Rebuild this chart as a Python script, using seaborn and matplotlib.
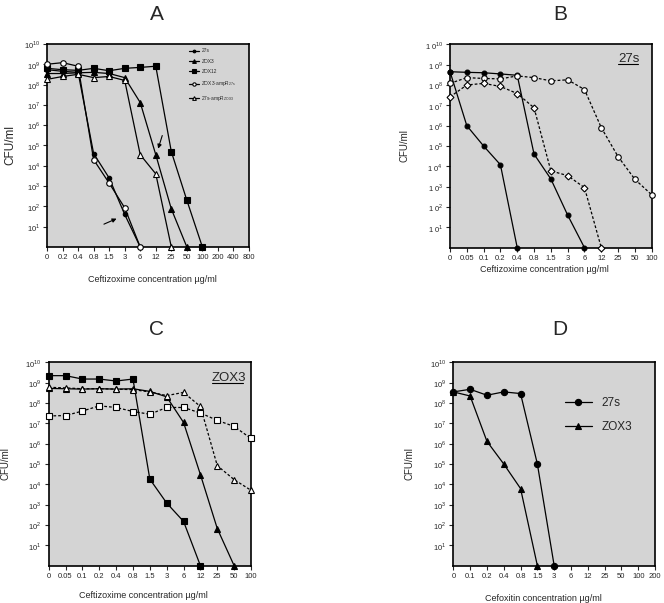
import pandas as pd
import seaborn as sns
import matplotlib.pyplot as plt
from matplotlib.ticker import NullLocator

# ---- Panel A: ceftizoxime, all strains
a_ticks = ["0", "0.2", "0.4", "0.8", "1.5", "3", "6", "12", "25", "50", "100", "200", "400", "800"]
a_27s = [5.4e8, 4.5e8, 4e8, 4e4, 2.5e3, 40, 1]
a_zox3 = [3.5e8, 3.5e8, 3.8e8, 4e8, 3.5e8, 2.2e8, 1.3e7, 3.5e4, 75, 1]
a_zox12 = [6.3e8, 5.4e8, 5e8, 6.3e8, 4.8e8, 6.3e8, 7e8, 8e8, 5e4, 2e2, 1]
a_zox3_amp = [1e9, 1.2e9, 8e8, 2e4, 1.4e3, 85, 1]
a_27s_amp = [1.8e8, 2.5e8, 3.2e8, 2.2e8, 2.5e8, 1.6e8, 3.5e4, 4e3, 1]
a_labels = ["27s", "ZOX3", "ZOX12", r"ZOX3-ampR$_{\mathrm{27s}}$", r"27s-ampR$_{\mathrm{ZOX3}}$"]

# ---- Panel B: 27s
b_ticks = ["0", "0.05", "0.1", "0.2", "0.4", "0.8", "1.5", "3", "6", "12", "25", "50", "100"]
b_solid1 = [4.6e8, 1e6, 1e5, 1.2e4, 1]
b_solid2 = [4.5e8, 4.2e8, 4e8, 3.5e8, 3e8, 4e4, 2.4e3, 40, 1]
b_dash_circle = [1.2e8, 2.3e8, 2.1e8, 2e8, 2.8e8, 2.3e8, 1.6e8, 1.8e8, 6e7, 8e5, 3e4, 2.3e3, 4e2]
b_dash_diamond = [2.6e7, 1e8, 1.2e8, 8.5e7, 3.8e7, 7.6e6, 6e3, 3.5e3, 9e2, 1]

# ---- Panel C: ZOX3
c_ticks = ["0", "0.05", "0.1", "0.2", "0.4", "0.8", "1.5", "3", "6", "12", "25", "50", "100"]
c_square = [2.2e9, 2.2e9, 1.5e9, 1.5e9, 1.2e9, 1.5e9, 1.8e4, 1.2e3, 1.5e2, 1]
c_triangle = [5.2e8, 5e8, 4.8e8, 5e8, 4.8e8, 5e8, 3.7e8, 2e8, 1.1e7, 3e4, 67, 1]
c_open_triangle = [5.9e8, 5.5e8, 5e8, 5e8, 4.8e8, 4.5e8, 3.5e8, 2.3e8, 3.3e8, 6.7e7, 8.3e4, 1.7e4, 5.1e3]
c_open_square = [2.3e7, 2.4e7, 4e7, 7.2e7, 6e7, 3.8e7, 2.8e7, 6e7, 6e7, 3.2e7, 1.4e7, 7e6, 1.8e6]

# ---- Panel D: cefoxitin
d_ticks = ["0", "0.1", "0.2", "0.4", "0.8", "1.5", "3", "6", "12", "25", "50", "100", "200"]
d_27s = [3.5e8, 4.7e8, 2.4e8, 3.5e8, 2.9e8, 1e5, 1]
d_zox3 = [3.5e8, 2.2e8, 1.3e6, 1e5, 6.2e3, 1]

dec_labels = [r"$10^{%d}$" % k for k in range(1, 11)]
dec_labels_b = [r"1 0$^{%d}$" % k for k in range(1, 11)]

sns.set_style("ticks")
plt.rcParams['font.family'] = ['Liberation Sans', 'DejaVu Sans']
plt.rcParams['mathtext.fontset'] = 'custom'
plt.rcParams['mathtext.rm'] = 'Liberation Sans'

fig = plt.figure(figsize=(6.64, 6.03), dpi=100)
axA = fig.add_axes([0.0708, 0.5904, 0.3042, 0.3367])
axB = fig.add_axes([0.6777, 0.5892, 0.3038, 0.3373])
axC = fig.add_axes([0.0733, 0.0619, 0.3047, 0.3373])
axD = fig.add_axes([0.6827, 0.0619, 0.3038, 0.3373])


def draw(ax, vals, marker, ms, face="black", ls="-", label=None):
    d = pd.DataFrame({"pos": range(len(vals)), "cfu": vals})
    sns.lineplot(data=d, x="pos", y="cfu", ax=ax, color="black", marker=marker,
                 markersize=ms, markerfacecolor=face, markeredgecolor="black",
                 markeredgewidth=0.8, linestyle=ls, linewidth=0.9,
                 clip_on=False, zorder=3, label=label, legend=False)


def setup(ax, ticks, ylabels, xlabel, xl_pos, yl_pos, ylab_size=7):
    ax.set_facecolor("#d4d4d4")
    ax.set_yscale("log")
    ax.set_ylim(1, 1e10)
    ax.set_xlim(0, len(ticks) - 1)
    ax.set_xticks(range(len(ticks)))
    ax.set_xticklabels(ticks, fontsize=5.5)
    ax.set_yticks([10.0 ** k for k in range(1, 11)])
    ax.set_yticklabels(ylabels, fontsize=5.5)
    ax.yaxis.set_minor_locator(NullLocator())
    ax.tick_params(length=3, width=0.8, pad=2)
    for s in ax.spines.values():
        s.set_color("black")
        s.set_linewidth(1.2)
    ax.set_xlabel(xlabel, fontsize=6.5)
    ax.set_ylabel("CFU/ml", fontsize=ylab_size)
    ax.xaxis.set_label_coords(*xl_pos)
    ax.yaxis.set_label_coords(*yl_pos)


cef = "Ceftizoxime concentration µg/ml"
dash = (0, (2.2, 1.6))

# A
draw(axA, a_27s, "o", 3.2, label=a_labels[0])
draw(axA, a_zox3, "^", 4.5, label=a_labels[1])
draw(axA, a_zox12, "s", 5, label=a_labels[2])
draw(axA, a_zox3_amp, "o", 4, face="white", label=a_labels[3])
draw(axA, a_27s_amp, "^", 4.5, face="white", label=a_labels[4])
setup(axA, a_ticks, dec_labels, cef, (0.52, -0.14), (-0.15, 0.5), ylab_size=8.5)
axA.legend(handles=axA.lines[:5], labels=a_labels, loc="upper left",
           bbox_to_anchor=(0.68, 1.0), frameon=False, fontsize=3.5,
           handlelength=2.2, markerscale=0.6, labelspacing=1.1, handletextpad=0.4)
axA.annotate("", xy=(7.1, 10 ** 4.71), xytext=(7.47, 10 ** 5.62),
             arrowprops=dict(arrowstyle="-|>", color="black", lw=0.8, mutation_scale=6))
axA.annotate("", xy=(4.64, 10 ** 1.45), xytext=(3.5, 10 ** 1.07),
             arrowprops=dict(arrowstyle="-|>", color="black", lw=0.8, mutation_scale=6))

# B
draw(axB, b_solid1, "o", 3.5)
draw(axB, b_solid2, "o", 3.5)
draw(axB, b_dash_circle, "o", 4, face="white", ls=dash)
draw(axB, b_dash_diamond, "D", 3.5, face="white", ls=dash)
setup(axB, b_ticks, dec_labels_b, cef, (0.47, -0.083), (-0.203, 0.5))
axB.text(0.832, 0.913, "27s", transform=axB.transAxes, fontsize=9.5, va="baseline")
axB.plot([0.832, 0.93], [0.903, 0.903], transform=axB.transAxes, color="black", lw=0.8)

# C
draw(axC, c_square, "s", 5)
draw(axC, c_triangle, "^", 4)
draw(axC, c_open_triangle, "^", 4.5, face="white", ls=dash)
draw(axC, c_open_square, "s", 5, face="white", ls=dash)
setup(axC, c_ticks, dec_labels, cef, (0.467, -0.124), (-0.19, 0.5))
axC.text(0.805, 0.908, "ZOX3", transform=axC.transAxes, fontsize=9.5, va="baseline")
axC.plot([0.805, 0.962], [0.898, 0.898], transform=axC.transAxes, color="black", lw=0.8)

# D
draw(axD, d_27s, "o", 4.5, label="27s")
draw(axD, d_zox3, "^", 4.5, label="ZOX3")
setup(axD, d_ticks, dec_labels, "Cefoxitin concentration µg/ml", (0.446, -0.138), (-0.193, 0.5))
axD.legend(handles=axD.lines[:2], labels=["27s", "ZOX3"], loc="upper left",
           bbox_to_anchor=(0.5, 0.88), frameon=False, fontsize=8.5,
           handlelength=2.3, labelspacing=1.0, handletextpad=0.8)

for x, y, t in [(157, 15, "A"), (560, 15, "B"), (157, 330, "C"), (560, 330, "D")]:
    fig.text(x / 664, 1 - y / 603, t, fontsize=15, ha="center", va="center")

fig.savefig("out.png", dpi=100, facecolor="white")
